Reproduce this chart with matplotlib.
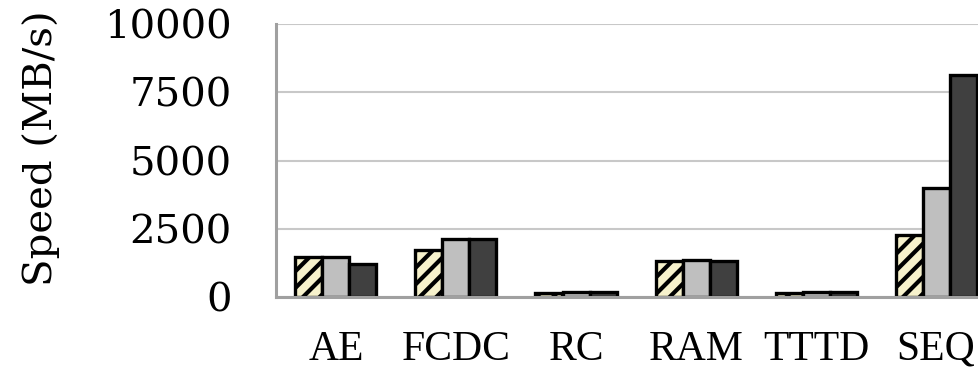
import matplotlib
matplotlib.use("Agg")
import matplotlib.pyplot as plt
import numpy as np

methods = ["AE", "FCDC", "RC", "RAM", "TTTD", "SEQ"]
speed_hatched = [1450, 1720, 160, 1330, 130, 2280]
speed_gray = [1450, 2110, 170, 1340, 180, 4000]
speed_dark = [1210, 2130, 170, 1330, 180, 8130]
y_ticks = [0, 2500, 5000, 7500, 10000]

plt.rcParams['hatch.linewidth'] = 3.0

fig = plt.figure(figsize=(9.79, 3.71), dpi=100)
# axes runs past the right edge of the figure, like the cropped original
ax = fig.add_axes([276 / 979, 74 / 371, 720 / 979, 273 / 371])

x = np.arange(len(methods))
w = 0.225
ax.bar(x - w, speed_hatched, w, color="#f7f2cc", edgecolor="black",
       linewidth=2.4, hatch="//", zorder=3)
ax.bar(x, speed_gray, w, color="#bfbfbf", edgecolor="black",
       linewidth=2.4, zorder=3)
ax.bar(x + w, speed_dark, w, color="#404040", edgecolor="black",
       linewidth=2.4, zorder=3)

ax.set_xlim(-0.5, len(methods) - 0.5)
ax.set_ylim(0, 10000)
ax.set_yticks(y_ticks)
ax.set_xticks(x)
ax.set_xticklabels(methods, fontfamily="Liberation Serif", fontsize=30)
ax.set_yticklabels([str(t) for t in y_ticks], fontfamily="DejaVu Serif", fontsize=29)
ax.tick_params(axis="x", length=0, pad=24)
ax.tick_params(axis="y", length=0, pad=32)

ax.yaxis.grid(True, color="#c8c8c8", linewidth=1.5, zorder=0)
ax.set_axisbelow(True)
for side in ["top", "right"]:
    ax.spines[side].set_visible(False)
for side in ["left", "bottom"]:
    ax.spines[side].set_color("#a0a0a0")
    ax.spines[side].set_linewidth(2.2)
    ax.spines[side].set_zorder(4)

fig.text(41 / 979, 1 - 148 / 371, "Speed (MB/s)", rotation=90,
         ha="center", va="center", fontfamily="DejaVu Serif", fontsize=29)

fig.savefig("out.png", dpi=100)
